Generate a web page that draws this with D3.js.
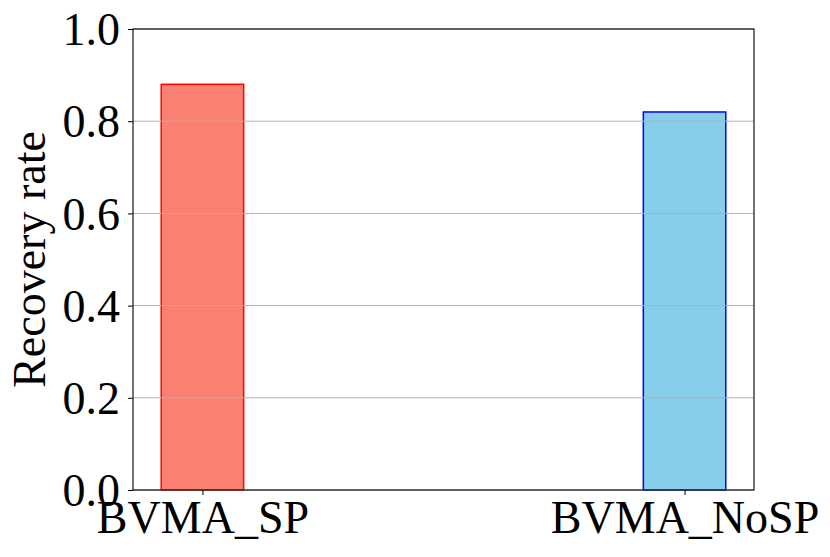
<!DOCTYPE html>
<html><head><meta charset="utf-8">
<script src="https://cdn.jsdelivr.net/npm/d3@7"></script>
<style>body{margin:0;background:#fff}svg{display:block}text{font-family:"Liberation Serif","Times New Roman",serif;fill:#000}</style>
</head><body>
<svg id="c" width="830" height="557"></svg>
<script>
const categories = ["BVMA_SP", "BVMA_NoSP"];
const values = [0.88, 0.82];
const fills = ["#FA8072", "#87CEEB"];
const edges = ["#ff0000", "#0000ff"];
const yTicks = [0.0, 0.2, 0.4, 0.6, 0.8, 1.0];

const svg = d3.select("#c");
const L = 133, R = 754, T = 29, B = 490;
const barW = 0.171;
const lo = -barW/2, hi = 1 + barW/2, pad = (hi - lo) * 0.05;
const x = d3.scaleLinear().domain([lo - pad, hi + pad]).range([L, R]);
const y = d3.scaleLinear().domain([0, 1]).range([B, T]);
const FS = 46;

// bars
svg.selectAll("rect.bar").data(values).enter().append("rect")
  .attr("x", (d,i) => x(i - barW/2)).attr("width", (d,i) => x(i + barW/2) - x(i - barW/2))
  .attr("y", d => y(d)).attr("height", d => y(0) - y(d))
  .attr("fill", (d,i) => fills[i]).attr("stroke", (d,i) => edges[i]).attr("stroke-width", 1.5);

// grid
svg.selectAll("line.grid").data(yTicks).enter().append("line")
  .attr("x1", L).attr("x2", R).attr("y1", d => y(d)).attr("y2", d => y(d))
  .attr("stroke", "#b0b0b0").attr("stroke-width", 1);

// spines
svg.append("rect").attr("x", L).attr("y", T).attr("width", R-L).attr("height", B-T)
  .attr("fill", "none").attr("stroke", "#000").attr("stroke-width", 1.1);

// y axis
const ya = d3.axisLeft(y).tickValues(yTicks).tickFormat(d3.format(".1f")).tickSize(5).tickPadding(8);
const gy = svg.append("g").attr("transform", `translate(${L},0)`).call(ya);
gy.select(".domain").remove();
gy.selectAll("text").attr("font-size", FS).attr("font-family", "Liberation Serif").attr("dy", "0.34em");
gy.selectAll("line").attr("stroke", "#000");

// x axis
const xa = d3.axisBottom(x).tickValues([0,1]).tickFormat(i => categories[i]).tickSize(5).tickPadding(6);
const gx = svg.append("g").attr("transform", `translate(0,${B})`).call(xa);
gx.select(".domain").remove();
gx.selectAll("text").attr("font-size", FS).attr("font-family", "Liberation Serif").attr("dy", "0.7em");
gx.selectAll("line").attr("stroke", "#000");

// y label
svg.append("text").attr("transform", `translate(45,${(T+B)/2}) rotate(-90)`)
  .attr("text-anchor", "middle").attr("font-size", FS).text("Recovery rate");
</script>
</body></html>
